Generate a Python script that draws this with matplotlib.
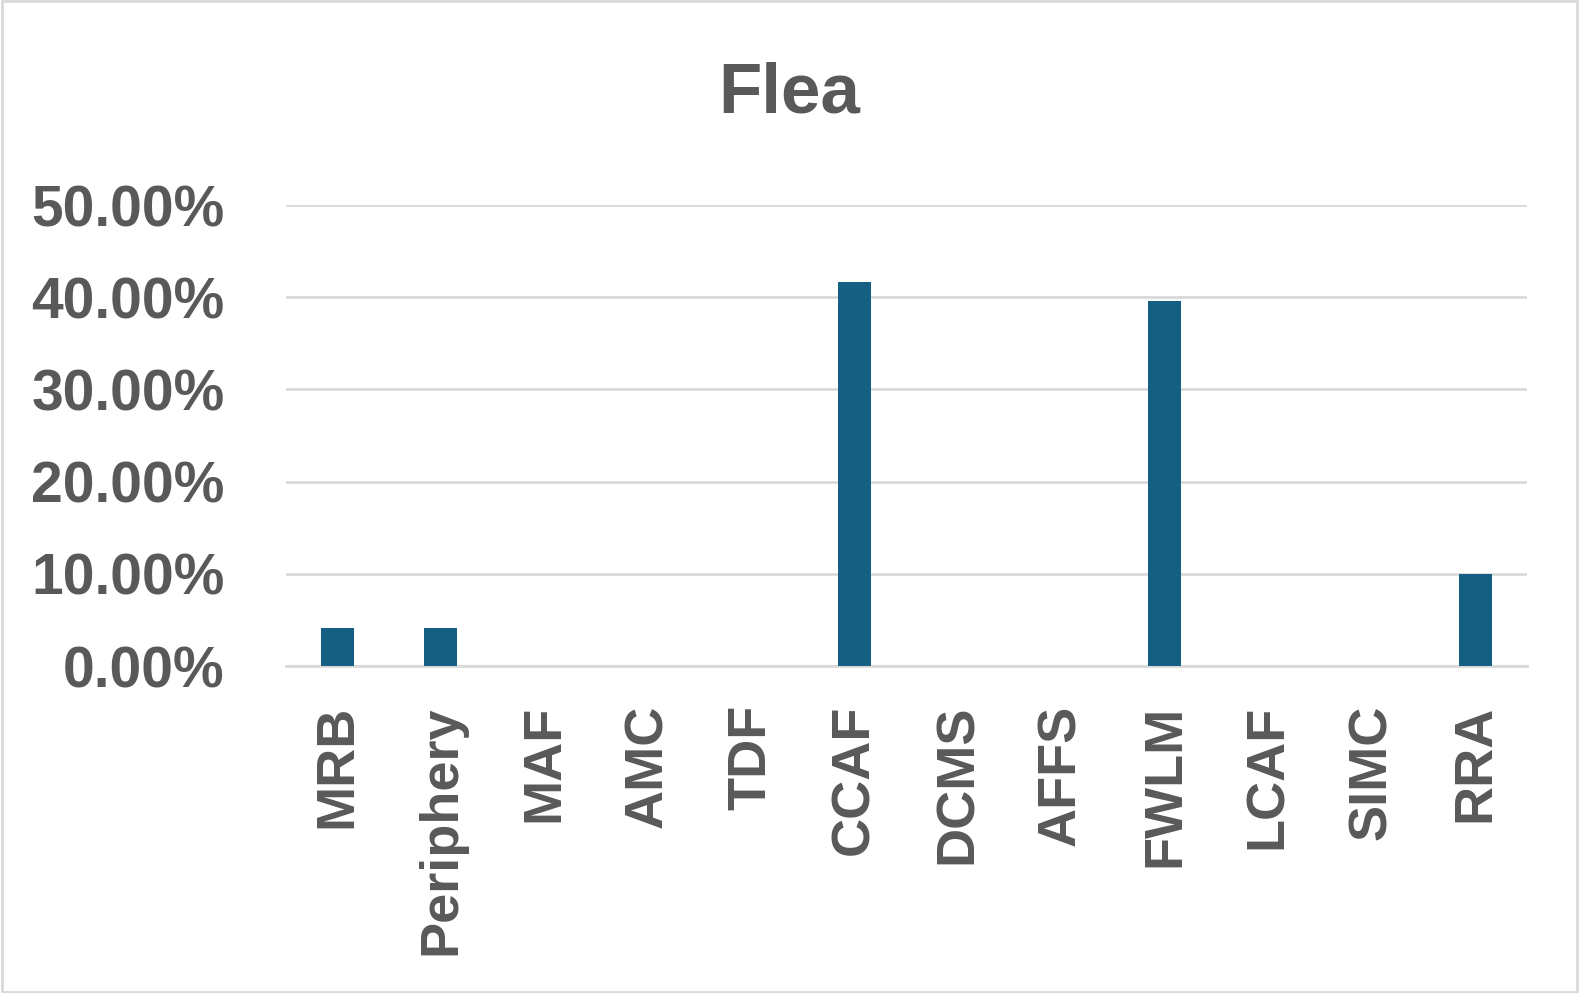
import matplotlib
matplotlib.use("Agg")
import matplotlib.pyplot as plt
from matplotlib.patches import Rectangle
from matplotlib.ticker import FuncFormatter

categories = ["MRB", "Periphery", "MAF", "AMC", "TDF", "CCAF", "DCMS",
              "AFFS", "FWLM", "LCAF", "SIMC", "RRA"]
values = [0.0417, 0.0417, 0, 0, 0, 0.4167, 0, 0, 0.3958, 0, 0, 0.1000]
yticks = [0, 0.1, 0.2, 0.3, 0.4, 0.5]

TEXT = "#595959"
GRID = "#d9d9d9"
BAR = "#156082"

plt.rcParams["font.family"] = ["Liberation Sans", "DejaVu Sans"]

fig = plt.figure(figsize=(15.79, 9.93), dpi=100)
ax = fig.add_axes([0.181, 0.3293, 0.786, 0.4642])

x = range(len(categories))
ax.bar(x, values, width=0.32, color=BAR, zorder=3)

ax.set_xlim(-0.5, len(categories) - 0.5)
ax.set_ylim(0, 0.5)
ax.set_yticks(yticks)
ax.yaxis.set_major_formatter(FuncFormatter(lambda v, _: f"{v * 100:.2f}%"))
ax.set_xticks(list(x))
ax.set_xticklabels(categories, rotation=90)

ax.grid(axis="y", color=GRID, linewidth=2, zorder=0)
for side in ("top", "right", "left"):
    ax.spines[side].set_visible(False)
ax.spines["bottom"].set_color(GRID)
ax.spines["bottom"].set_linewidth(2)
ax.tick_params(axis="both", length=0, labelcolor=TEXT)
ax.tick_params(axis="y", pad=44, labelsize=41)
ax.tick_params(axis="x", pad=28, labelsize=39)
for lbl in ax.get_xticklabels() + ax.get_yticklabels():
    lbl.set_fontweight("bold")

fig.text(0.5, 0.887, "Flea", ha="center", va="baseline", fontsize=51,
         fontweight="bold", color=TEXT)

# thin grey frame round the chart area
fig.patches.append(Rectangle((0.001, 0.001), 0.998, 0.998, transform=fig.transFigure,
                             fill=False, edgecolor=GRID, linewidth=2))

fig.savefig("out.png", dpi=100)
